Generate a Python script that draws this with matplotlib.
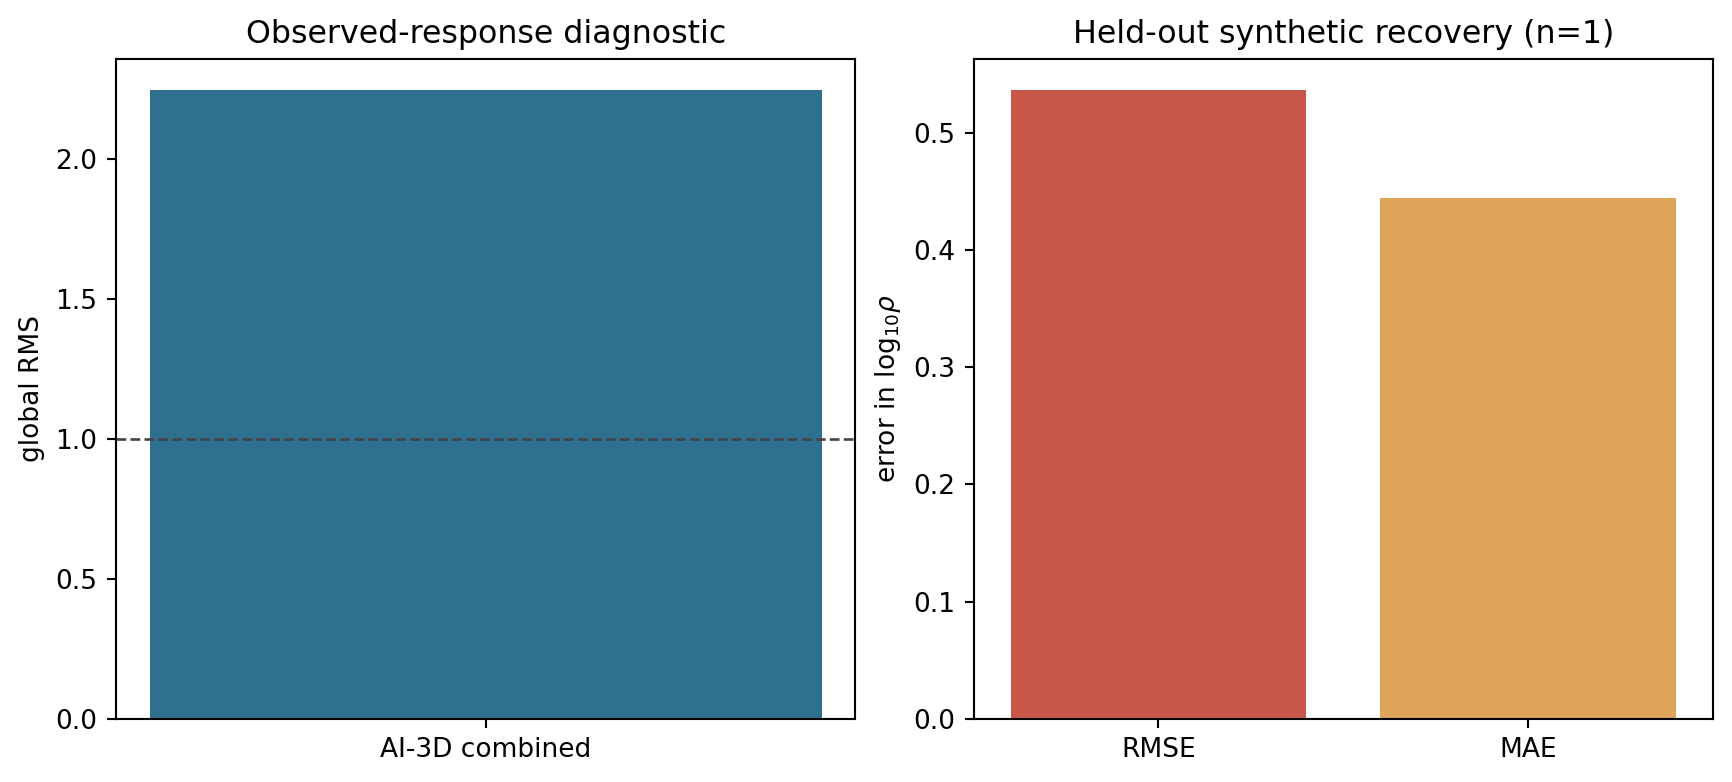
import matplotlib
matplotlib.use('Agg')
import matplotlib.pyplot as plt

# observed-response diagnostic
obs_labels = ["AI-3D combined"]
obs_rms = [2.246]

# held-out synthetic recovery
rec_labels = ["RMSE", "MAE"]
rec_values = [0.536, 0.444]

DPI = 190
fig, (ax1, ax2) = plt.subplots(1, 2, figsize=(1732 / DPI, 782 / DPI), dpi=DPI)
fig.subplots_adjust(left=0.067, right=0.989, bottom=0.0806, top=0.9246, wspace=0.16)

# left panel: single bar with the RMS=1 reference line
ax1.bar(obs_labels, obs_rms, width=0.8, color="#2f7090")
ax1.axhline(1.0, color="#444444", linestyle="--", linewidth=1.0)
ax1.set_ylabel("global RMS")
ax1.set_title("Observed-response diagnostic")

# right panel: error metrics
ax2.bar(rec_labels, rec_values, width=0.8, color=["#c9574a", "#dfa459"])
ax2.set_xlim(-0.5, 1.5)
ax2.set_ylabel(r"error in log$_{10}\rho$")
ax2.set_title("Held-out synthetic recovery (n=1)")

fig.savefig("out.png", dpi=DPI)
